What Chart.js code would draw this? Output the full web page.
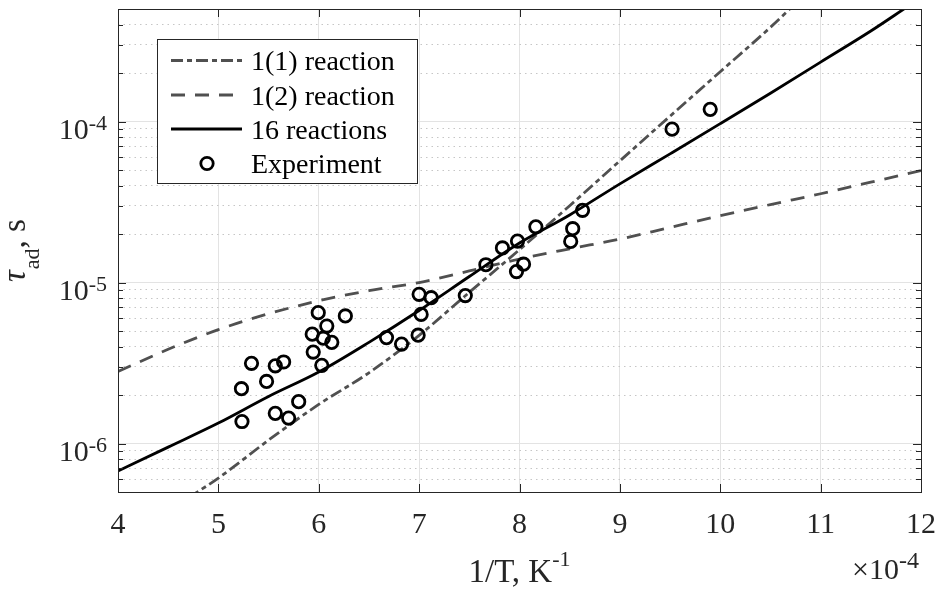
<!DOCTYPE html>
<html>
<head>
<meta charset="utf-8">
<script src="https://cdn.jsdelivr.net/npm/chart.js@4.4.1/dist/chart.umd.min.js"></script>
<style>
  html, body { margin: 0; padding: 0; background: #fff; }
  #wrap { width: 938px; height: 589px; }
</style>
</head>
<body>
<div id="wrap"><canvas id="chart" width="938" height="589"></canvas></div>
<script>
// Ignition delay vs 1/T (x in units of 1e-4 K^-1)

const SERIF = '"Liberation Serif", "Times New Roman", serif';
const AXIS_COLOR = "#262626";

// --- Data ---
const xTicks = [4, 5, 6, 7, 8, 9, 10, 11, 12];
const yDecades = [1e-6, 1e-5, 1e-4];
const xRange = [4, 12];
const yRange = [5e-7, 5e-4];

const oneStepX = [4.7, 5, 5.5, 6, 6.5, 7, 7.5, 8, 8.5, 9, 9.5, 10, 10.5, 10.8];
const oneStepY = [4.6e-7, 6.1e-7, 1.05e-6, 1.75e-6, 2.75e-6, 4.7e-6, 8.7e-6, 1.6e-5, 3.0e-5, 5.7e-5, 1.08e-4, 2.04e-4, 3.85e-4, 5.8e-4];

const twoStepX = [4, 4.5, 5, 5.5, 6, 6.5, 7, 7.5, 8, 8.5, 9, 9.5, 10, 10.5, 11, 11.5, 12];
const twoStepY = [2.8e-6, 3.85e-6, 5.1e-6, 6.4e-6, 7.7e-6, 8.9e-6, 1.0e-5, 1.18e-5, 1.40e-5, 1.62e-5, 1.86e-5, 2.2e-5, 2.6e-5, 3.05e-5, 3.56e-5, 4.2e-5, 4.96e-5];

const fullX = [4, 4.5, 5, 5.5, 6, 6.5, 7, 7.5, 8, 8.5, 9, 9.5, 10, 10.5, 11, 11.5, 11.85];
const fullY = [6.75e-7, 9.5e-7, 1.34e-6, 1.96e-6, 2.78e-6, 4.25e-6, 6.7e-6, 1.09e-5, 1.76e-5, 2.63e-5, 4.1e-5, 6.3e-5, 9.7e-5, 1.5e-4, 2.34e-4, 3.65e-4, 5.1e-4];

const expX = [5.23, 5.235, 5.33, 5.48, 5.567, 5.65, 5.567, 5.70, 5.80, 5.995, 5.935, 5.945,
  6.03, 6.08, 6.045, 6.13, 6.265, 6.675, 6.825, 6.99, 7.02, 7.00, 7.12, 7.46,
  7.665, 7.83, 7.97, 7.98, 8.04, 8.163, 8.51, 8.53, 8.628, 9.52, 9.90];
const expY = [2.19e-6, 1.37e-6, 3.15e-6, 2.43e-6, 3.04e-6, 3.21e-6, 1.54e-6, 1.44e-6, 1.82e-6, 6.5e-6, 4.78e-6, 3.70e-6,
  3.06e-6, 5.37e-6, 4.51e-6, 4.25e-6, 6.2e-6, 4.55e-6, 4.15e-6, 4.71e-6, 6.34e-6, 8.45e-6, 8.05e-6, 8.3e-6,
  1.29e-5, 1.64e-5, 1.17e-5, 1.81e-5, 1.30e-5, 2.22e-5, 1.80e-5, 2.16e-5, 2.81e-5, 8.97e-5, 1.19e-4];

const seriesLabels = ["1(1) reaction", "1(2) reaction", "16 reactions", "Experiment"];

// --- Helpers ---

function toPoints(xs, ys) {
  return xs.map((x, i) => ({ x: x, y: ys[i] }));
}

function isDecade(v) {
  const e = Math.log10(v);
  return Math.abs(e - Math.round(e)) < 1e-6;
}

// text with a raised exponent, e.g. 10^-4
function drawPower(ctx, base, exp, x, y, align, baseSize, expSize, rise) {
  ctx.font = baseSize + "px " + SERIF;
  const wb = ctx.measureText(base).width;
  ctx.font = expSize + "px " + SERIF;
  const we = ctx.measureText(exp).width;
  let start = x;
  if (align === "right") start = x - wb - we;
  else if (align === "center") start = x - (wb + we) / 2;
  ctx.textAlign = "left";
  ctx.textBaseline = "alphabetic";
  ctx.font = baseSize + "px " + SERIF;
  ctx.fillText(base, start, y);
  ctx.font = expSize + "px " + SERIF;
  ctx.fillText(exp, start + wb, y - rise);
}

// --- Axes decorations (frame, inner ticks, labels, legend) ---

const matlabAxes = {
  id: "matlabAxes",
  afterDatasetsDraw(chart) {
    const { ctx, chartArea: a, scales } = chart;
    const xs = scales.x, ys = scales.y;
    ctx.save();
    ctx.strokeStyle = AXIS_COLOR;
    ctx.lineWidth = 1;

    ctx.beginPath();
    xs.ticks.forEach(t => {
      const px = Math.round(xs.getPixelForValue(t.value)) + 0.5;
      ctx.moveTo(px, a.bottom); ctx.lineTo(px, a.bottom - 8);
      ctx.moveTo(px, a.top); ctx.lineTo(px, a.top + 8);
    });
    ys.ticks.forEach(t => {
      const py = Math.round(ys.getPixelForValue(t.value)) + 0.5;
      const len = isDecade(t.value) ? 8 : 5;
      ctx.moveTo(a.left, py); ctx.lineTo(a.left + len, py);
      ctx.moveTo(a.right, py); ctx.lineTo(a.right - len, py);
    });
    ctx.stroke();

    ctx.strokeRect(Math.round(a.left) + 0.5, Math.round(a.top) + 0.5,
      Math.round(a.right - a.left), Math.round(a.bottom - a.top));
    ctx.restore();
  },
  afterDraw(chart) {
    const { ctx, chartArea: a, scales } = chart;
    const xs = scales.x, ys = scales.y;
    ctx.save();
    ctx.fillStyle = AXIS_COLOR;

    // x tick labels
    ctx.font = "30px " + SERIF;
    ctx.textAlign = "center";
    ctx.textBaseline = "alphabetic";
    xTicks.forEach(v => {
      ctx.fillText(String(v), xs.getPixelForValue(v), a.bottom + 41);
    });

    // y tick labels 10^n
    yDecades.forEach(v => {
      const py = ys.getPixelForValue(v);
      drawPower(ctx, "10", String(Math.round(Math.log10(v))), a.left - 11, py + 17, "right", 30, 22, 9);
    });

    // exponent of x axis
    drawPower(ctx, "\u00d710", "-4", a.right - 2, a.bottom + 87, "right", 30, 24, 11);

    // x title
    drawPower(ctx, "1/T, K", "-1", (a.left + a.right) / 2, a.bottom + 90, "center", 33, 22, 16);

    // y title: tau_ad, s (rotated)
    ctx.save();
    const tauFont = "italic 33px " + SERIF;
    const subFont = "22px " + SERIF;
    const mainFont = "33px " + SERIF;
    ctx.font = tauFont; const wTau = ctx.measureText("\u03c4").width;
    ctx.font = subFont; const wSub = ctx.measureText("ad").width;
    ctx.font = mainFont; const wRest = ctx.measureText(", s").width;
    const total = wTau + 1 + wSub + wRest;
    ctx.translate(25, (a.top + a.bottom) / 2 + total / 2);
    ctx.rotate(-Math.PI / 2);
    ctx.textAlign = "left";
    ctx.textBaseline = "alphabetic";
    ctx.font = tauFont; ctx.fillText("\u03c4", 0, 0);
    ctx.font = subFont; ctx.fillText("ad", wTau + 1, 14);
    ctx.font = mainFont; ctx.fillText(", s", wTau + 1 + wSub, 0);
    ctx.restore();

    // legend
    const box = { x: 157.5, y: 39.5, w: 260, h: 144 };
    ctx.fillStyle = "#fff";
    ctx.fillRect(box.x, box.y, box.w, box.h);
    ctx.strokeStyle = AXIS_COLOR;
    ctx.lineWidth = 1;
    ctx.strokeRect(box.x, box.y, box.w, box.h);

    const rowY = [60.5, 95, 129, 163.5];
    chart.data.datasets.forEach((ds, i) => {
      const y = rowY[i];
      ctx.save();
      ctx.strokeStyle = ds.borderColor;
      ctx.lineWidth = ds.borderWidth;
      if (ds.showLine) {
        ctx.setLineDash(ds.borderDash || []);
        ctx.lineCap = "butt";
        ctx.beginPath();
        ctx.moveTo(171, y); ctx.lineTo(242, y);
        ctx.stroke();
      } else {
        ctx.beginPath();
        ctx.arc(207, y, ds.pointRadius, 0, Math.PI * 2);
        ctx.stroke();
      }
      ctx.restore();
      ctx.fillStyle = "#000";
      ctx.font = "28px " + SERIF;
      ctx.textAlign = "left";
      ctx.textBaseline = "alphabetic";
      ctx.fillText(ds.label, 251, y + 9.5);
    });
    ctx.restore();
  }
};

// --- Chart ---

const lineBase = {
  showLine: true,
  pointRadius: 0,
  pointHoverRadius: 0,
  cubicInterpolationMode: "monotone",
  borderCapStyle: "butt",
  fill: false,
  clip: 0,
};

const chart = new Chart(document.getElementById("chart"), {
  type: "scatter",
  data: {
    datasets: [
      { ...lineBase, label: seriesLabels[0], data: toPoints(oneStepX, oneStepY),
        borderColor: "#505050", borderWidth: 2.8, borderDash: [12, 4, 5, 4], order: 3 },
      { ...lineBase, label: seriesLabels[1], data: toPoints(twoStepX, twoStepY),
        borderColor: "#505050", borderWidth: 2.8, borderDash: [14, 10], order: 2 },
      { ...lineBase, label: seriesLabels[2], data: toPoints(fullX, fullY),
        borderColor: "#000", borderWidth: 2.8, order: 1 },
      { label: seriesLabels[3], data: toPoints(expX, expY), showLine: false,
        pointStyle: "circle", pointRadius: 6.2, pointHoverRadius: 6.2,
        borderColor: "#000", backgroundColor: "rgba(0,0,0,0)", borderWidth: 2.8,
        pointBorderWidth: 2.8, order: 0 },
    ],
  },
  options: {
    responsive: false,
    animation: false,
    events: [],
    layout: { padding: { left: 118, top: 7, right: 17, bottom: 97 } },
    plugins: { legend: { display: false }, tooltip: { enabled: false } },
    scales: {
      x: {
        type: "linear",
        min: xRange[0],
        max: xRange[1],
        afterBuildTicks: s => { s.ticks = xTicks.map(v => ({ value: v })); },
        ticks: { display: false },
        grid: { color: "#e3e3e3", lineWidth: 1, drawTicks: false },
        border: { display: false },
      },
      y: {
        type: "logarithmic",
        min: yRange[0],
        max: yRange[1],
        afterBuildTicks: s => {
          const t = [];
          for (let e = -7; e <= -4; e++) {
            for (let m = 1; m <= 9; m++) {
              const v = m * Math.pow(10, e);
              if (v >= yRange[0] * 0.999 && v <= yRange[1] * 1.001) t.push({ value: v });
            }
          }
          s.ticks = t;
        },
        ticks: { display: false },
        grid: {
          drawTicks: false,
          lineWidth: 1,
          color: c => (c.tick && isDecade(c.tick.value)) ? "#e3e3e3" : "#c6c6c6",
        },
        border: {
          display: false,
          dash: c => (c.tick && !isDecade(c.tick.value)) ? [1.5, 4] : [],
        },
      },
    },
  },
  plugins: [matlabAxes],
});
</script>
</body>
</html>
